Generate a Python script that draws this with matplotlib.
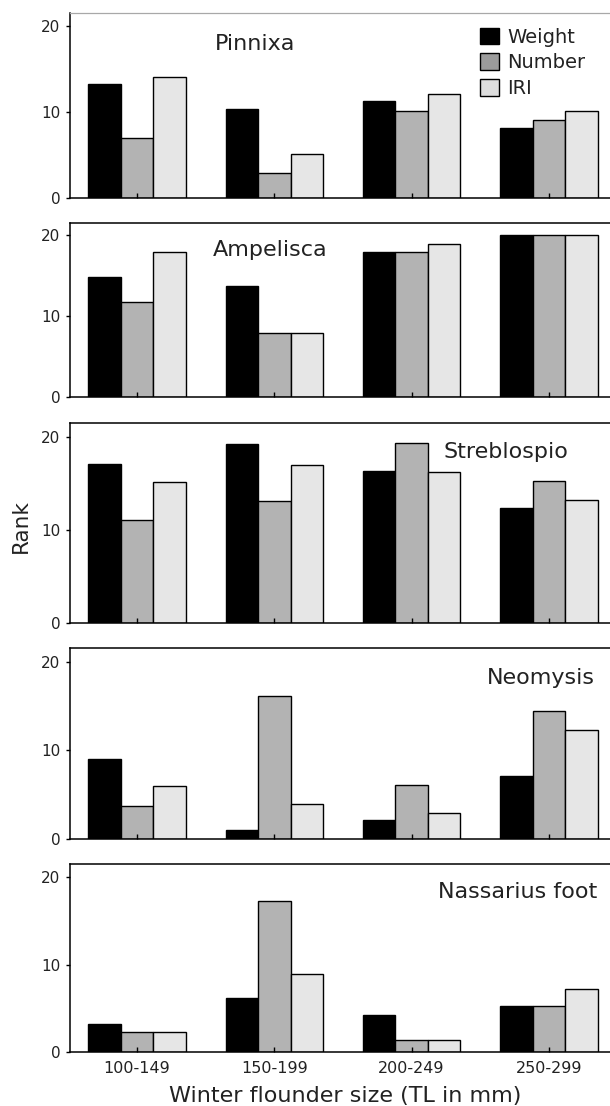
# Winter flounder diet ranks by prey taxon and fish size class (5 stacked panels).
import numpy as np
import matplotlib
matplotlib.use("Agg")
import matplotlib.pyplot as plt
from matplotlib.patches import Patch

size_classes = ["100-149", "150-199", "200-249", "250-299"]
series = ["Weight", "Number", "IRI"]

taxa = ["Pinnixa", "Ampelisca", "Streblospio", "Neomysis", "Nassarius foot"]
weight = [
    [13.2, 10.3, 11.3, 8.1],
    [14.9, 13.8, 17.9, 20.0],
    [17.1, 19.25, 16.35, 12.4],
    [9.0, 1.05, 2.2, 7.1],
    [3.25, 6.25, 4.25, 5.3],
]
number = [
    [7.0, 2.9, 10.1, 9.0],
    [11.8, 7.9, 17.9, 20.0],
    [11.1, 13.1, 19.3, 15.2],
    [3.8, 16.1, 6.15, 14.4],
    [2.3, 17.25, 1.4, 5.3],
]
iri = [
    [14.0, 5.1, 12.1, 10.1],
    [17.9, 7.9, 18.9, 20.0],
    [15.1, 17.0, 16.25, 13.2],
    [5.95, 4.0, 3.0, 12.35],
    [2.3, 8.95, 1.4, 7.25],
]

bar_colors = ["#000000", "#b3b3b3", "#e6e6e6"]
legend_colors = ["#000000", "#9c9c9c", "#dedede"]
TXT = "#222222"

W, H = 610, 1106
fig = plt.figure(figsize=(W / 100, H / 100), dpi=100)

boxes = [(12.7, 198.0), (223.3, 397.3), (422.7, 623.3), (648.3, 839.3), (864.0, 1052.3)]
# label anchors: (x data, y baseline, ha)
label_pos = [(0.568, 17.2, "left"), (0.553, 17.4, "left"), (2.23, 17.7, "left"),
             (3.336, 17.5, "right"), (3.35, 17.6, "right")]

x = np.arange(len(size_classes))
bw = 0.236
left_px = 70

for i, taxon in enumerate(taxa):
    top, bot = boxes[i]
    ax = fig.add_axes([left_px / W, 1 - bot / H, (W - left_px) / W, (bot - top) / H])
    for j, vals in enumerate([weight[i], number[i], iri[i]]):
        ax.bar(x + (j - 1) * bw, vals, bw, color=bar_colors[j], edgecolor="black",
               linewidth=1.0, zorder=1)
    ax.set_xlim(-0.488, 3.445)
    ax.set_ylim(0, 21.5)
    ax.set_yticks([0, 10, 20])
    ax.set_xticks(x)
    ax.tick_params(axis="y", direction="out", length=3, width=1, pad=4,
                   labelsize=11, labelcolor=TXT)
    ax.tick_params(axis="x", direction="in", length=3.5, width=1, pad=6,
                   labelsize=11.5, labelcolor=TXT)
    if i == len(taxa) - 1:
        ax.set_xticklabels(size_classes)
    else:
        ax.set_xticklabels([])
    ax.spines["right"].set_visible(False)
    for s in ["left", "bottom", "top"]:
        ax.spines[s].set_linewidth(1.1)
    if i == 0:
        ax.spines["top"].set_color("#a8a8a8")
        ax.spines["top"].set_linewidth(0.9)
    lx, ly, ha = label_pos[i]
    ax.text(lx, ly, taxon, ha=ha, va="baseline", fontsize=16, color=TXT)
    if i == 0:
        handles = [Patch(facecolor=c, edgecolor="black", linewidth=1.0) for c in legend_colors]
        ax.legend(handles, series, loc="upper left", bbox_to_anchor=((480 - left_px) / (W - left_px), 0.92),
                  frameon=False, fontsize=14, handlelength=1.0, handleheight=0.95,
                  handletextpad=0.4, labelspacing=0.35, borderpad=0, borderaxespad=0,
                  labelcolor=TXT)

fig.text(21 / W, 1 - 526 / H, "Rank", rotation=90, ha="center", va="center",
         fontsize=15.5, color=TXT)
fig.text(345 / W, 1 - 1096 / H, "Winter flounder size (TL in mm)", ha="center",
         va="center", fontsize=16, color=TXT)

fig.savefig("out.png", dpi=100)
